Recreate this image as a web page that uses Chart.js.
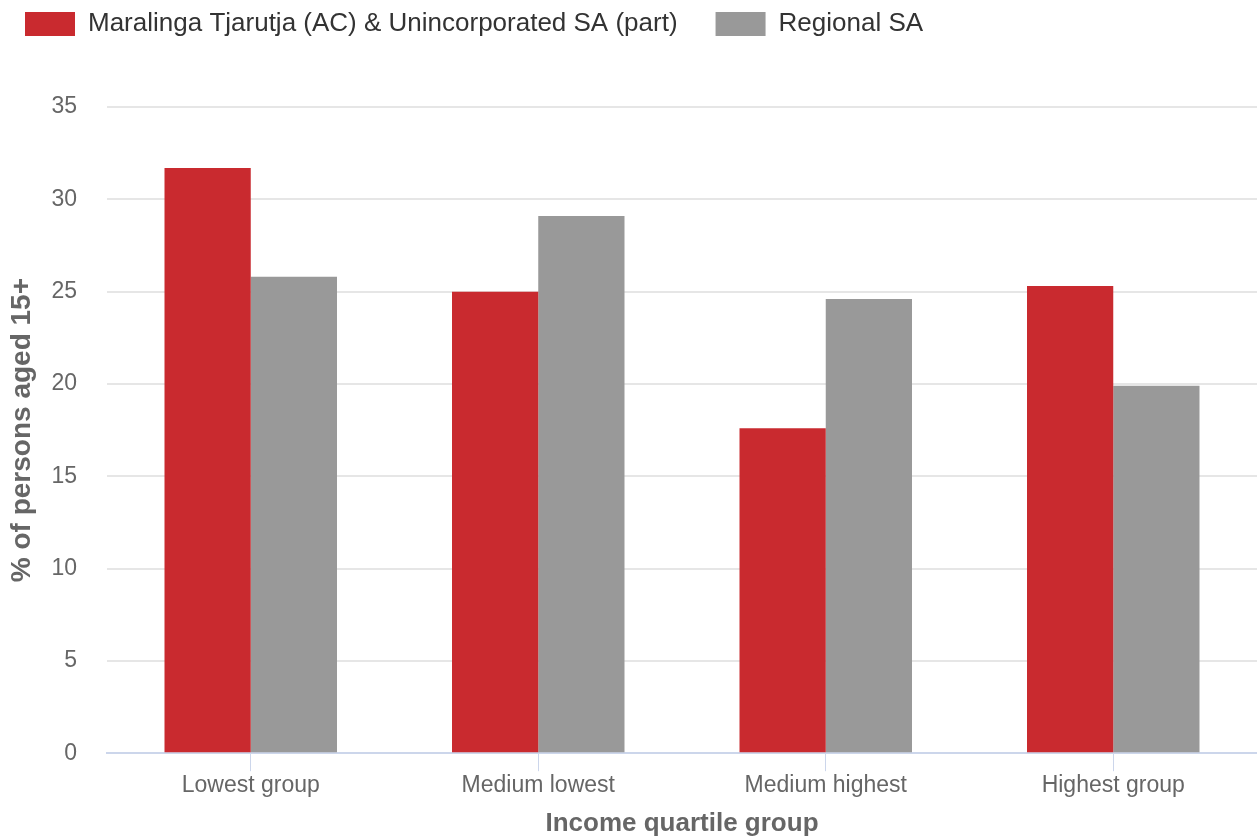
<!DOCTYPE html>
<html>
<head>
<meta charset="utf-8">
<script src="https://cdn.jsdelivr.net/npm/chart.js@4/dist/chart.umd.min.js"></script>
<style>
  html, body { margin: 0; padding: 0; background: #fff; }
  #wrap { width: 1257px; height: 836px; position: relative; }
</style>
</head>
<body>
<div id="wrap"><canvas id="incomeChart"></canvas></div>
<script>
const categories = ['Lowest group', 'Medium lowest', 'Medium highest', 'Highest group'];
const areaValues = [31.7, 25.0, 17.6, 25.3];
const regionalValues = [25.8, 29.1, 24.6, 19.9];
const seriesNames = ['Maralinga Tjarutja (AC) & Unincorporated SA (part)', 'Regional SA'];

Chart.defaults.font.family = '"Liberation Sans", Arial, sans-serif';

// push the plot area down below the legend
const legendMargin = {
    id: 'legendMargin',
    beforeInit(chart) {
        const origFit = chart.legend.fit;
        chart.legend.fit = function () {
            origFit.bind(chart.legend)();
            this.height += 60;
        };
    }
};

new Chart(document.getElementById('incomeChart'), {
    type: 'bar',
    data: {
        labels: categories,
        datasets: [{
            label: seriesNames[0],
            data: areaValues,
            backgroundColor: '#c92a2f',
            categoryPercentage: 0.6,
            barPercentage: 1.0
        }, {
            label: seriesNames[1],
            data: regionalValues,
            backgroundColor: '#999999',
            categoryPercentage: 0.6,
            barPercentage: 1.0
        }]
    },
    options: {
        responsive: true,
        maintainAspectRatio: false,
        animation: false,
        layout: { padding: { left: -13, right: 0, top: -27, bottom: -3 } },
        plugins: {
            legend: {
                position: 'top',
                align: 'start',
                labels: {
                    boxWidth: 50,
                    boxHeight: 24,
                    padding: 38,
                    color: '#333',
                    font: { size: 26 }
                }
            },
            tooltip: { enabled: false }
        },
        scales: {
            x: {
                grid: {
                    display: true,
                    drawOnChartArea: false,
                    offset: false,
                    tickLength: 18,
                    color: '#ccd6eb'
                },
                border: { color: '#ccd6eb', width: 2 },
                ticks: { color: '#666', font: { size: 23 }, padding: 1 },
                title: {
                    display: true,
                    text: 'Income quartile group',
                    color: '#666',
                    font: { size: 26, weight: 'bold' },
                    padding: { top: 7, bottom: 0 }
                }
            },
            y: {
                min: 0,
                max: 35,
                afterFit(scale) { scale.width = 120; },
                ticks: { stepSize: 5, color: '#666', font: { size: 23 }, padding: 30 },
                grid: { color: '#e6e6e6', lineWidth: 2, drawTicks: false },
                border: { display: false },
                title: {
                    display: true,
                    text: '% of persons aged 15+',
                    color: '#666',
                    font: { size: 28, weight: 'bold' },
                    padding: { top: 18, bottom: 0 }
                }
            }
        }
    },
    plugins: [legendMargin]
});
</script>
</body>
</html>
